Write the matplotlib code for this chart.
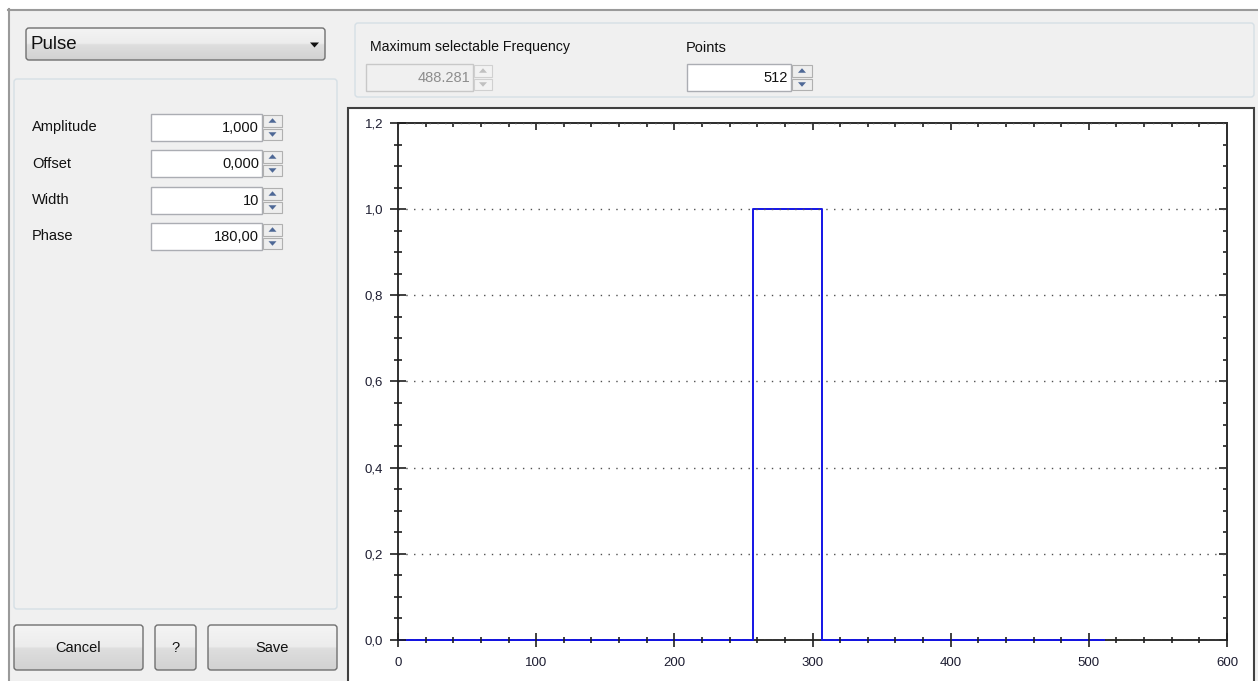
import numpy as np
import matplotlib.pyplot as plt
from matplotlib.patches import Rectangle, FancyBboxPatch, Polygon
from matplotlib.colors import LinearSegmentedColormap
from matplotlib.ticker import MultipleLocator, FuncFormatter, NullFormatter

plt.rcParams['font.family'] = ['Liberation Sans', 'DejaVu Sans']

# dialog settings
waveform = 'Pulse'
param_names = ['Amplitude', 'Offset', 'Width', 'Phase']
param_values = ['1,000', '0,000', '10', '180,00']
max_frequency = '488.281'
n_points = 512
amplitude = 1.0
offset = 0.0
pulse_start = 257
pulse_end = 307

# waveform samples
sample_idx = np.arange(n_points)
samples = np.where((sample_idx >= pulse_start) & (sample_idx < pulse_end), amplitude, 0.0) + offset

W, H = 1258, 681
fig = plt.figure(figsize=(W / 100, H / 100), dpi=100, facecolor='white')
ui = fig.add_axes([0, 0, 1, 1])
ui.axis('off')


def rbox(x0, y0, x1, y1, fc, ec, r=3, lw=1.0, z=1):
    p = FancyBboxPatch((x0, y0), x1 - x0, y1 - y0,
                       boxstyle=f'round,pad=0,rounding_size={r}',
                       fc=fc, ec=ec, lw=lw, zorder=z)
    ui.add_patch(p)
    return p


def gradient_box(x0, y0, x1, y1, colors, ec='#707070', r=3):
    p = rbox(x0, y0, x1, y1, 'none', ec, r, z=2)
    cmap = LinearSegmentedColormap.from_list('btn', colors)
    grad = np.linspace(0, 1, 64).reshape(-1, 1)
    im = ui.imshow(grad, cmap=cmap, extent=(x0, x1, y1, y0), aspect='auto', zorder=1.5)
    im.set_clip_path(p)


def spinner(x0, y0, x1, y1, arrow='#4e6896', fc='#eeeeee', ec='#b0b0b0'):
    ym = (y0 + y1) / 2
    cx = (x0 + x1) / 2
    for a, b, up in [(y0, ym, True), (ym, y1, False)]:
        ui.add_patch(Rectangle((x0 + 1, a + 1), x1 - x0 - 2, b - a - 2, fc=fc, ec=ec, lw=0.8, zorder=2))
        cy = (a + b) / 2
        if up:
            tri = [(cx - 4, cy + 2), (cx + 4, cy + 2), (cx, cy - 2.5)]
        else:
            tri = [(cx - 4, cy - 2), (cx + 4, cy - 2), (cx, cy + 2.5)]
        ui.add_patch(Polygon(tri, closed=True, fc=arrow, ec='none', zorder=3))


def num_field(x0, y0, x1, y1, sx1, value, enabled=True):
    ui.add_patch(Rectangle((x0, y0), x1 - x0, y1 - y0,
                           fc='white' if enabled else '#f0f0f0',
                           ec='#abadb3' if enabled else '#c8c8c8', lw=1, zorder=2))
    ui.text(x1 - 3, (y0 + y1) / 2 + 0.5, value, ha='right', va='center', fontsize=10.5,
            color='#111111' if enabled else '#8d8d8d', zorder=3)
    if enabled:
        spinner(x1, y0, sx1, y1)
    else:
        spinner(x1, y0, sx1, y1, arrow='#c0c0c0', fc='#f2f2f2', ec='#d0d0d0')


# window background and frame
ui.add_patch(Rectangle((8, 9), W - 8, H - 9, fc='#f0f0f0', ec='none', zorder=0))
ui.plot([8, W], [9.5, 9.5], color='#9a9a9a', lw=1.5, zorder=1)
ui.plot([8.5, 8.5], [9, H], color='#9a9a9a', lw=1.5, zorder=1)

btn_colors = [(0, '#f4f4f4'), (0.48, '#ececec'), (0.52, '#dedede'), (1, '#d2d2d2')]

# waveform dropdown
gradient_box(26, 28, 325, 60, btn_colors)
ui.text(31, 44.5, waveform, fontsize=13.5, va='center', color='#111111', zorder=3)
ui.add_patch(Polygon([(310, 42.5), (319, 42.5), (314.5, 47.5)], closed=True, fc='#111111', zorder=3))

# parameter group
rbox(14, 79, 337, 609, '#f0f0f0', '#d5dfe5', r=3)
row_tops = [114, 150, 187, 223]
for name, val, top in zip(param_names, param_values, row_tops):
    ui.text(32, top + 13.5, name, fontsize=10.5, va='center', color='#111111', zorder=3)
    num_field(151, top, 262, top + 27, 283, val)

# buttons
for label, x0, x1 in [('Cancel', 14, 143), ('?', 155, 196), ('Save', 208, 337)]:
    gradient_box(x0, 625, x1, 670, btn_colors)
    ui.text((x0 + x1) / 2, 648, label, ha='center', va='center', fontsize=10.5, color='#111111', zorder=3)

# top group
rbox(355, 23, 1254, 97, '#f0f0f0', '#d5dfe5', r=3)
ui.text(370, 47.5, 'Maximum selectable Frequency', fontsize=10.2, va='center', color='#111111', zorder=3)
num_field(366, 64, 473, 91, 493, max_frequency, enabled=False)
ui.text(686, 47.5, 'Points', fontsize=10.5, va='center', color='#111111', zorder=3)
num_field(687, 64, 791, 91, 813, str(n_points))

# plot frame
ui.add_patch(Rectangle((348, 108), 1254 - 348, H - 108 + 5, fc='white', ec='#404040', lw=1.5, zorder=1))

ui.set_xlim(0, W)
ui.set_ylim(H, 0)

# plot area
ax = fig.add_axes([398 / W, (H - 640) / H, (1227 - 398) / W, (640 - 123) / H])
ax.set_facecolor('none')
ax.step(sample_idx, samples, where='post', color='#1414e6', lw=1.4, zorder=2.6, clip_on=False)

ax.set_xlim(0, 600)
ax.set_ylim(0, 1.2)
ax.xaxis.set_major_locator(MultipleLocator(100))
ax.xaxis.set_minor_locator(MultipleLocator(20))
ax.yaxis.set_major_locator(MultipleLocator(0.2))
ax.yaxis.set_minor_locator(MultipleLocator(0.05))
ax.yaxis.set_major_formatter(FuncFormatter(lambda v, p: f'{v:.1f}'.replace('.', ',')))
ax.xaxis.set_major_formatter(FuncFormatter(lambda v, p: f'{v:.0f}'))

for s in ax.spines.values():
    s.set_color('#303030')
    s.set_linewidth(1.4)

ax.tick_params(which='both', direction='inout', colors='#202020', width=1.2,
               labelcolor='#1c1c30', labelsize=9.5)
ax.tick_params(axis='x', which='major', length=10, pad=7)
ax.tick_params(axis='x', which='minor', length=4.5)
ax.tick_params(axis='y', which='major', length=11.5, pad=5)
ax.tick_params(axis='y', which='minor', length=5.5)

ax.yaxis.grid(True, which='major', color='#505050', lw=1.0, linestyle=(0, (1, 4.6)))
ax.xaxis.grid(False)
ax.xaxis.set_zorder(3)
ax.yaxis.set_zorder(3)

# inward ticks on top and right
top = ax.secondary_xaxis('top')
top.xaxis.set_major_locator(MultipleLocator(100))
top.xaxis.set_minor_locator(MultipleLocator(20))
top.xaxis.set_major_formatter(NullFormatter())
top.tick_params(which='both', direction='in', colors='#202020', width=1.2)
top.tick_params(which='major', length=5)
top.tick_params(which='minor', length=3)
top.spines['top'].set_color('#303030')
top.spines['top'].set_linewidth(1.4)

right = ax.secondary_yaxis('right')
right.yaxis.set_major_locator(MultipleLocator(0.2))
right.yaxis.set_minor_locator(MultipleLocator(0.05))
right.yaxis.set_major_formatter(NullFormatter())
right.tick_params(which='both', direction='in', colors='#202020', width=1.2)
right.tick_params(which='major', length=5.5)
right.tick_params(which='minor', length=3)
right.spines['right'].set_color('#303030')
right.spines['right'].set_linewidth(1.4)

plt.savefig('out.png', dpi=100, facecolor='white')
